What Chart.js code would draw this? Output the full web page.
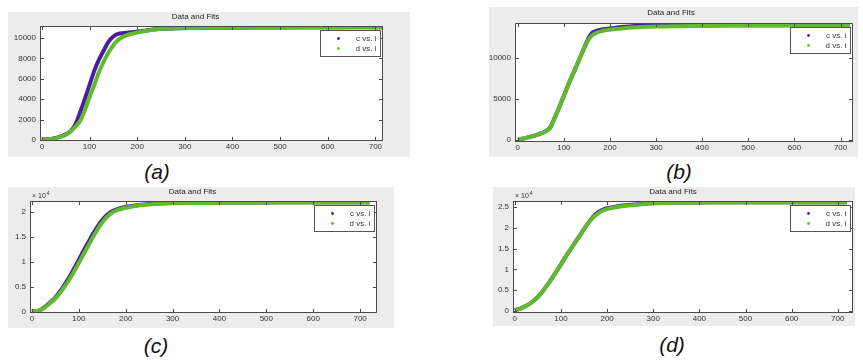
<!DOCTYPE html>
<html>
<head>
<meta charset="utf-8">
<script src="https://cdn.jsdelivr.net/npm/chart.js@4.4.1/dist/chart.umd.min.js"></script>
<style>
  body { margin: 0; background: #fff; width: 863px; height: 360px; position: relative; overflow: hidden;
         font-family: Arial, "Liberation Sans", sans-serif; }
  .panel { position: absolute; background: #ececec; }
  .panel canvas { display: block; }
  .cap { position: absolute; font-style: italic; font-size: 21px; color: #111; transform: translate(-50%, -50%); }
</style>
</head>
<body>
<div class="panel" style="left:8px;top:12px"><canvas id="pa" width="402" height="145"></canvas></div>
<div class="panel" style="left:489px;top:7px"><canvas id="pb" width="369" height="150"></canvas></div>
<div class="panel" style="left:8px;top:187px"><canvas id="pc" width="386" height="141"></canvas></div>
<div class="panel" style="left:493px;top:187px"><canvas id="pd" width="362" height="139"></canvas></div>
<div class="cap" style="left:157px;top:172px">(a)</div>
<div class="cap" style="left:679px;top:172px">(b)</div>
<div class="cap" style="left:156px;top:346px">(c)</div>
<div class="cap" style="left:672px;top:345px">(d)</div>

<script>
// sample index i (x axis), shared by every panel
const iVals = [0, 10, 20, 30, 40, 50, 60, 70, 80, 90, 100, 110, 120, 130, 140, 150, 160, 170, 180, 190,
  200, 220, 240, 260, 280, 300, 350, 400, 450, 500, 550, 600, 650, 700, 720];

const seriesNames = ["c vs. i", "d vs. i"];
const xTicks = [0, 100, 200, 300, 400, 500, 600, 700];

// (a)
const aC = [30, 60, 100, 200, 350, 550, 850, 1500, 2700, 4000, 5400, 6800, 7900, 8800, 9650, 10150, 10400, 10480, 10520, 10560,
  10620, 10750, 10870, 10920, 10950, 10980, 11000, 11020, 11030, 11040, 11050, 11050, 11060, 11060, 11060];
const aD = [20, 50, 90, 180, 320, 520, 800, 1300, 1850, 2900, 4200, 5400, 6700, 7700, 8600, 9300, 9800, 10100, 10300, 10430,
  10550, 10720, 10850, 10910, 10950, 10970, 11000, 11010, 11020, 11030, 11040, 11040, 11050, 11050, 11050];
const aYTicks = [0, 2000, 4000, 6000, 8000, 10000];

// (b)
const bC = [50, 150, 300, 450, 600, 800, 1050, 1500, 2700, 4000, 5400, 6800, 8100, 9400, 10700, 12000, 13000, 13300, 13450, 13550,
  13600, 13750, 13850, 13950, 14000, 14050, 14080, 14100, 14100, 14110, 14110, 14120, 14120, 14120, 14120];
const bD = [50, 150, 300, 450, 600, 800, 1050, 1450, 2700, 4000, 5400, 6800, 8100, 9400, 10700, 11900, 12700, 13050, 13250, 13380,
  13450, 13580, 13680, 13750, 13800, 13840, 13880, 13900, 13920, 13930, 13940, 13950, 13950, 13960, 13960];
const bYTicks = [0, 5000, 10000];

// (c)
const cC = [100, 200, 500, 1200, 2000, 2900, 4100, 5500, 7000, 8700, 10400, 12200, 13900, 15600, 17100, 18400, 19400, 20100, 20500, 20800,
  21000, 21300, 21500, 21650, 21750, 21800, 21850, 21900, 21900, 21900, 21950, 21950, 21950, 21950, 21950];
const cD = [100, 200, 450, 1100, 1850, 2700, 3800, 5100, 6500, 8100, 9800, 11500, 13200, 14900, 16500, 17900, 19000, 19800, 20300, 20600,
  20850, 21200, 21450, 21600, 21700, 21750, 21800, 21850, 21850, 21880, 21880, 21900, 21900, 21900, 21900];
const cYTicks = [0, 5000, 10000, 15000, 20000];

// (d)
const dC = [200, 500, 1000, 1600, 2400, 3400, 4700, 6200, 7800, 9500, 11200, 13000, 14700, 16400, 18000, 19700, 21300, 22700, 23700, 24300,
  24700, 25100, 25400, 25600, 25800, 25950, 26050, 26100, 26150, 26150, 26150, 26150, 26150, 26150, 26150];
const dD = [200, 500, 1000, 1600, 2400, 3400, 4700, 6200, 7800, 9500, 11200, 13000, 14700, 16400, 18000, 19700, 21300, 22500, 23400, 24100,
  24500, 24950, 25300, 25500, 25700, 25850, 26000, 26050, 26080, 26100, 26100, 26100, 26100, 26100, 26100];
const dYTicks = [0, 5000, 10000, 15000, 20000, 25000];

const BLUE = "#4a1f9e";
const GREEN = "#5fba2c";
const FONT = "Arial, 'Liberation Sans', sans-serif";

// matlab-ish box: white axes, inward ticks on all sides, legend inside the axes, "x 10^4" exponent
const matlabBox = {
  id: "matlabBox",
  beforeDraw(chart) {
    const { ctx, chartArea: a } = chart;
    ctx.save();
    ctx.fillStyle = "#ffffff";
    ctx.fillRect(a.left, a.top, a.right - a.left, a.bottom - a.top);
    ctx.restore();
  },
  afterDatasetsDraw(chart, args, opts) {
    const { ctx, chartArea: a, scales: { x, y } } = chart;
    ctx.save();
    ctx.strokeStyle = "#4a4a4a";
    ctx.lineWidth = 1;
    ctx.strokeRect(a.left + 0.5, a.top + 0.5, a.width - 1, a.height - 1);
    const t = 4;
    ctx.beginPath();
    x.ticks.forEach(tk => {
      const px = Math.round(x.getPixelForValue(tk.value)) + 0.5;
      ctx.moveTo(px, a.bottom); ctx.lineTo(px, a.bottom - t);
      ctx.moveTo(px, a.top); ctx.lineTo(px, a.top + t);
    });
    y.ticks.forEach(tk => {
      const py = Math.round(y.getPixelForValue(tk.value)) + 0.5;
      ctx.moveTo(a.left, py); ctx.lineTo(a.left + t, py);
      ctx.moveTo(a.right, py); ctx.lineTo(a.right - t, py);
    });
    ctx.stroke();

    // legend box
    const w = 60, h = 26;
    const lx = Math.round(a.right - 3 - w) + 0.5, ly = Math.round(a.top + 4) + 0.5;
    ctx.fillStyle = "#fff";
    ctx.fillRect(lx, ly, w, h);
    ctx.strokeStyle = "#555";
    ctx.strokeRect(lx, ly, w, h);
    ctx.font = "8px " + FONT;
    ctx.textAlign = "right";
    ctx.textBaseline = "middle";
    chart.data.datasets.forEach((ds, k) => {
      const cy = ly + 8 + k * 10;
      ctx.fillStyle = ds.borderColor;
      ctx.beginPath();
      ctx.arc(lx + 18, cy, 1.4, 0, Math.PI * 2);
      ctx.fill();
      ctx.fillStyle = "#333";
      ctx.fillText(ds.label, lx + w - 4, cy);
    });

    if (opts.exponent) {
      ctx.fillStyle = "#333";
      ctx.textAlign = "left";
      ctx.textBaseline = "alphabetic";
      ctx.font = "7px " + FONT;
      ctx.fillText("\u00d7 10", a.left + 2, a.top - 3);
      const wd = ctx.measureText("\u00d7 10").width;
      ctx.font = "5px " + FONT;
      ctx.fillText(String(opts.exponent), a.left + 2 + wd + 1, a.top - 6);
    }
    ctx.restore();
  }
};

function makePanel(id, c, d, yTicks, p) {
  const ctx = document.getElementById(id).getContext("2d");
  return new Chart(ctx, {
    type: "line",
    data: {
      labels: iVals,
      datasets: [
        { label: seriesNames[0], data: iVals.map((v, k) => ({ x: v, y: c[k] })), borderColor: BLUE,
          borderWidth: 4, pointRadius: 0, cubicInterpolationMode: "monotone", order: 1 },
        { label: seriesNames[1], data: iVals.map((v, k) => ({ x: v, y: d[k] })), borderColor: GREEN,
          borderWidth: 4, pointRadius: 0, cubicInterpolationMode: "monotone", order: 0 },
      ],
    },
    options: {
      responsive: false,
      animation: false,
      layout: { padding: { left: 0, right: p.right, top: 0, bottom: 0 } },
      plugins: {
        legend: { display: false },
        tooltip: { enabled: false },
        title: {
          display: true,
          text: "Data and Fits",
          color: "#222",
          font: { family: FONT, size: 8, weight: "normal" },
          padding: { top: p.titleTop, bottom: p.titleBottom },
        },
        matlabBox: { exponent: p.exponent },
      },
      scales: {
        x: {
          type: "linear",
          min: p.xMin,
          max: p.xMax,
          afterFit: s => { s.height = p.xH; },
          afterBuildTicks: s => { s.ticks = xTicks.map(v => ({ value: v })); },
          grid: { display: false, drawTicks: false },
          border: { display: false },
          ticks: { color: "#333", font: { family: FONT, size: 8 }, padding: 1, autoSkip: false, maxRotation: 0 },
        },
        y: {
          type: "linear",
          min: p.yMin,
          max: p.yMax,
          afterFit: s => { s.width = p.yW; },
          afterBuildTicks: s => { s.ticks = yTicks.map(v => ({ value: v })); },
          grid: { display: false, drawTicks: false },
          border: { display: false },
          ticks: {
            color: "#333",
            font: { family: FONT, size: 8 },
            padding: 4,
            autoSkip: false,
            callback: v => (p.exponent ? String(v / 10000) : String(v)),
          },
        },
      },
    },
    plugins: [matlabBox],
  });
}

makePanel("pa", aC, aD, aYTicks, { right: 27, xH: 16, yW: 32, titleTop: 0, titleBottom: 4.4,
  xMin: -4, xMax: 716, yMin: -100, yMax: 11180 });
makePanel("pb", bC, bD, bYTicks, { right: 5, xH: 15, yW: 26, titleTop: 1, titleBottom: 5.4,
  xMin: -6, xMax: 727, yMin: -240, yMax: 14270 });
makePanel("pc", cC, cD, cYTicks, { right: 17, xH: 15, yW: 22, titleTop: 0, titleBottom: 4.4,
  xMin: -4, xMax: 736, yMin: -200, yMax: 22200, exponent: 4 });
makePanel("pd", dC, dD, dYTicks, { right: 2, xH: 13, yW: 20, titleTop: 0, titleBottom: 4.4,
  xMin: -4, xMax: 733, yMin: -480, yMax: 26440, exponent: 4 });
</script>
</body>
</html>
